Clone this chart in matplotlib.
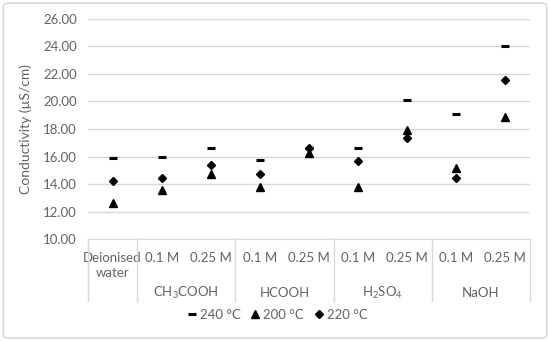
import matplotlib.pyplot as plt
from matplotlib.patches import FancyBboxPatch

# categories
conc = ["Deionised\nwater", "0.1 M", "0.25 M", "0.1 M", "0.25 M",
        "0.1 M", "0.25 M", "0.1 M", "0.25 M"]
groups = ["", "CH$_3$COOH", "HCOOH", "H$_2$SO$_4$", "NaOH"]
group_sizes = [1, 2, 2, 2, 2]

# conductivity (uS/cm) per temperature
t240 = [15.9, 15.95, 16.6, 15.77, 16.6, 16.62, 20.1, 19.07, 24.06]
t200 = [12.6, 13.6, 14.7, 13.8, 16.28, 13.76, 17.9, 15.2, 18.9]
t220 = [14.25, 14.45, 15.35, 14.75, 16.62, 15.68, 17.38, 14.42, 21.55]

plt.rcParams['font.family'] = ['Lato', 'DejaVu Sans']
plt.rcParams['mathtext.fontset'] = 'custom'
plt.rcParams['mathtext.rm'] = 'Lato'
plt.rcParams['mathtext.it'] = 'Lato'
grey = "#636363"
line_grey = "#d9d9d9"

fig = plt.figure(figsize=(5.5, 3.41), dpi=100)
frame = FancyBboxPatch((0.006, 0.009), 0.988, 0.982, boxstyle="round,pad=0,rounding_size=0.01",
                       transform=fig.transFigure, facecolor="none", edgecolor=line_grey, lw=1.2)
fig.patches.append(frame)

ax = fig.add_axes([0.16, 0.2991, 0.8036, 0.6452])
ax.set_facecolor("none")

x = list(range(len(conc)))
l1, = ax.plot(x, t240, ls="none", marker="_", ms=5.8, mew=2.2, color="black", label="240 °C")
l2, = ax.plot(x, t200, ls="none", marker="^", ms=5.2, color="black", label="200 °C")
l3, = ax.plot(x, t220, ls="none", marker="D", ms=4.2, color="black", label="220 °C")

ax.set_xlim(-0.5, len(conc) - 0.5)
ax.set_ylim(10, 26)
ax.set_yticks(range(10, 27, 2))
ax.set_yticklabels(["%.2f" % v for v in range(10, 27, 2)], color=grey, fontsize=9.5)
ax.grid(axis="y", color=line_grey, lw=1)
ax.set_axisbelow(True)
for s in ["top", "right", "left"]:
    ax.spines[s].set_visible(False)
ax.spines["bottom"].set_color(line_grey)
ax.tick_params(axis="y", length=0, pad=8)
ax.tick_params(axis="x", length=0)

ax.set_xticks(x)
ax.set_xticklabels(conc, color=grey, fontsize=9.5, linespacing=1.3)
ax.tick_params(axis="x", pad=9)

ax.set_ylabel("Conductivity (µS/cm)", color=grey, fontsize=10, labelpad=8)

# group labels and separators
trans = ax.get_xaxis_transform()
pos = -0.5
ax.plot([pos, pos], [0, -0.28], color=line_grey, lw=1, transform=trans, clip_on=False)
for g, n in zip(groups, group_sizes):
    if g:
        ax.text(pos + n / 2, -0.245, g, ha="center", va="center", color=grey,
                fontsize=9.5, transform=trans)
    pos += n
    ax.plot([pos, pos], [0, -0.28], color=line_grey, lw=1, transform=trans, clip_on=False)

fig.legend(handles=[l1, l2, l3], loc="center", bbox_to_anchor=(0.505, 1 - 315 / 341),
           ncol=3, frameon=False, fontsize=9.5, labelcolor=grey, handlelength=0.6,
           handletextpad=0.3, columnspacing=0.8)

fig.savefig("out.png", dpi=100)
